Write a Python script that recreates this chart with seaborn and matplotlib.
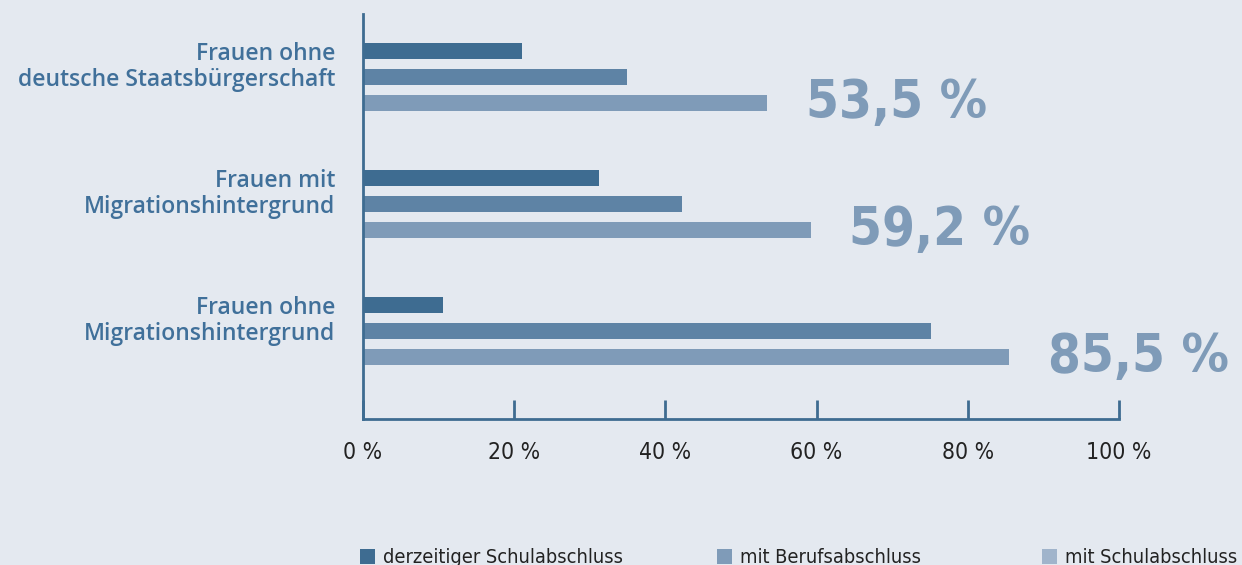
import matplotlib
matplotlib.use("Agg")
import matplotlib.pyplot as plt
import matplotlib.transforms as mtransforms
from matplotlib.patches import Patch
import pandas as pd
import seaborn as sns

# data
groups = ["Frauen ohne\ndeutsche Staatsbürgerschaft",
          "Frauen mit\nMigrationshintergrund",
          "Frauen ohne\nMigrationshintergrund"]
series = ["derzeitiger Schulabschluss", "mit Berufsabschluss", "mit Schulabschluss"]
derzeitig = [21.0, 31.2, 10.6]
beruf = [34.9, 42.2, 75.1]
schule = [53.5, 59.2, 85.5]
big_labels = ["53,5 %", "59,2 %", "85,5 %"]
xticks = [0, 20, 40, 60, 80, 100]
xtick_labels = ["0 %", "20 %", "40 %", "60 %", "80 %", "100 %"]

bar_colors = ["#3E6C91", "#5E83A5", "#7F9BB8"]
legend_colors = ["#3E6C91", "#7F9BB8", "#A0B4CB"]
bg = "#E4E9F0"
axis_col = "#3E6C91"

df = pd.DataFrame({
    "group": groups * 3,
    "serie": [series[0]] * 3 + [series[1]] * 3 + [series[2]] * 3,
    "wert": derzeitig + beruf + schule,
})

sns.set_theme(style="white")
plt.rcParams["font.family"] = ["DejaVu Sans"]
narrow = dict(family=["DejaVu Sans"], stretch="condensed")

fig = plt.figure(figsize=(12.42, 5.65), dpi=100, facecolor=bg)
ax = fig.add_axes([363 / 1242, 1 - 419 / 565, (1119 - 363) / 1242, 405 / 565])
ax.set_facecolor(bg)

sns.barplot(data=df, y="group", x="wert", hue="serie", hue_order=series,
            palette=bar_colors, orient="h", width=0.615, gap=0.38,
            saturation=1, linewidth=0, legend=False, ax=ax)

ax.set_xlim(0, 100)
ax.set_ylim(2.693, -0.496)
ax.set_xlabel("")
ax.set_ylabel("")

for s in ["top", "right"]:
    ax.spines[s].set_visible(False)
for s in ["left", "bottom"]:
    ax.spines[s].set_color(axis_col)
    ax.spines[s].set_linewidth(2)

ax.set_xticks(xticks)
ax.set_xticklabels(xtick_labels, fontsize=16.5, color="#222222", **narrow)
ax.tick_params(axis="x", bottom=True, direction="in", length=14, width=2,
               color=axis_col, pad=16)
ax.tick_params(axis="y", left=False, length=0, pad=20)
for lab in ax.get_yticklabels():
    lab.set_family(["Open Sans", "DejaVu Sans"])
    lab.set_fontweight("semibold")
    lab.set_fontsize(16.5)
    lab.set_color("#40709A")
    lab.set_horizontalalignment("right")
    lab.set_linespacing(1.12)
    lab.set_transform(lab.get_transform() +
                      mtransforms.ScaledTranslation(0, 0.14, fig.dpi_scale_trans))

# big value labels next to the longest bar of each group
for i, (v, txt) in enumerate(zip(schule, big_labels)):
    bar = ax.containers[2][i]
    yc = bar.get_y() + bar.get_height() / 2
    ax.annotate(txt, xy=(v, yc), xytext=(28, 0), textcoords="offset points",
                ha="left", va="center", fontsize=38, fontweight="bold",
                color="#7F9BB8", annotation_clip=False, **narrow)

# one legend entry per series, spread across the bottom like the original
legend_x = [360, 717, 1042]
for c, l, x in zip(legend_colors, series, legend_x):
    leg = fig.legend(handles=[Patch(facecolor=c, edgecolor="none", label=l)],
                     loc="lower left", bbox_to_anchor=(x / 1242, -0.004),
                     frameon=False, handlelength=0.75, handleheight=0.75,
                     handletextpad=0.4, borderaxespad=0, borderpad=0,
                     prop={"family": ["DejaVu Sans"], "stretch": "condensed",
                           "size": 14.3})
    for t in leg.get_texts():
        t.set_color("#222222")

fig.savefig("out.png", dpi=100, facecolor=bg)
